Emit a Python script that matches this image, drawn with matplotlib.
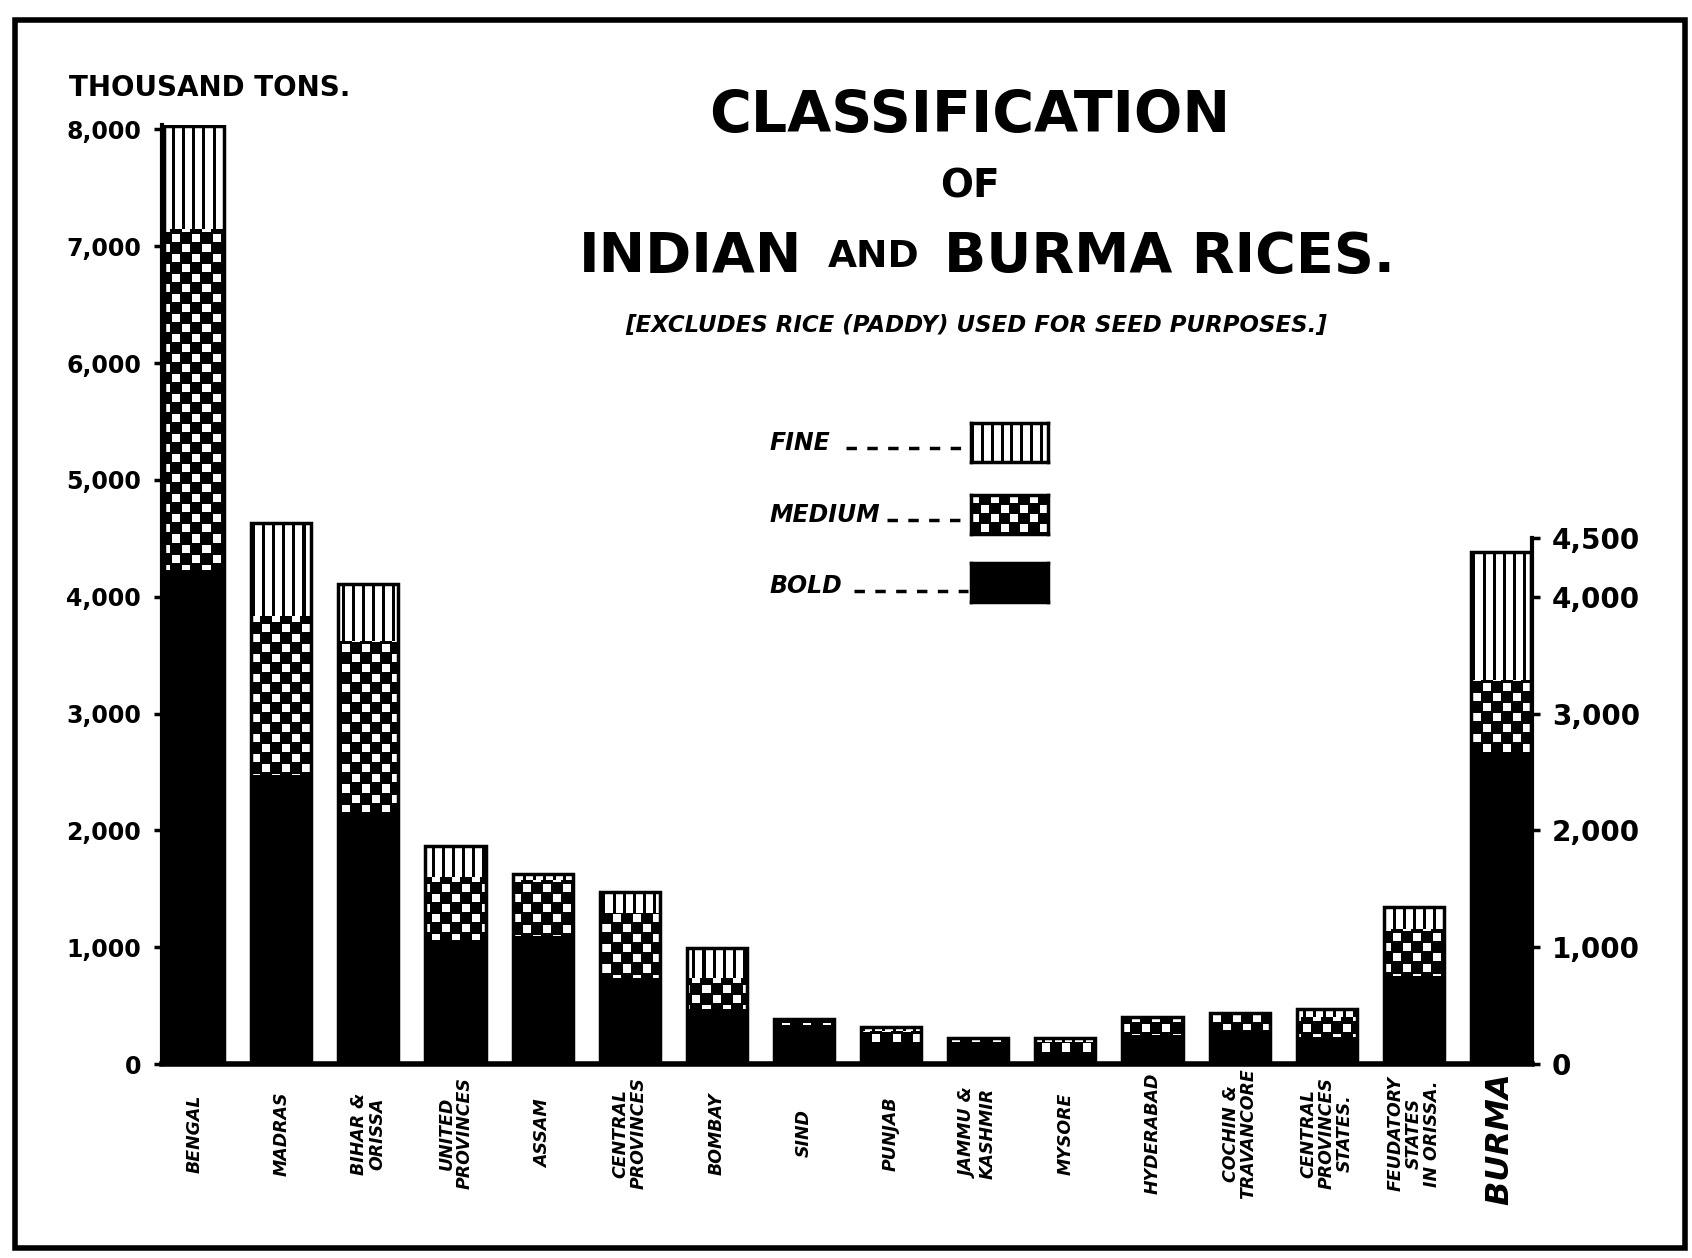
import numpy as np
import matplotlib
matplotlib.use("Agg")
import matplotlib.pyplot as plt
from matplotlib.patches import Rectangle
from matplotlib.lines import Line2D

# --- Datos (miles de toneladas) ---
provincias = ["BENGAL", "MADRAS", "BIHAR &\nORISSA", "UNITED\nPROVINCES", "ASSAM",
              "CENTRAL\nPROVINCES", "BOMBAY", "SIND", "PUNJAB", "JAMMU &\nKASHMIR",
              "MYSORE", "HYDERABAD", "COCHIN &\nTRAVANCORE",
              "CENTRAL\nPROVINCES\nSTATES.", "FEUDATORY\nSTATES\nIN ORISSA.", "BURMA "]
bold = [4230, 2475, 2160, 1065, 1100, 740, 475, 330, 175, 180, 100, 250, 290, 230, 750, 2650]
medium = [2920, 1360, 1460, 540, 475, 555, 265, 55, 110, 40, 90, 150, 150, 175, 405, 635]
fine = [880, 800, 490, 265, 50, 175, 255, 0, 35, 0, 30, 0, 0, 70, 185, 1100]
ticks_izq = [0, 1000, 2000, 3000, 4000, 5000, 6000, 7000, 8000]
ticks_der = [0, 1000, 2000, 3000, 4000, 4500]

plt.rcParams['font.family'] = ['DejaVu Sans']

# --- Patrones de relleno ---
def patron_cuadros(h, w, paso=10, lado=8):
    yy, xx = np.mgrid[0:h, 0:w]
    blanco = (((xx // paso) + (yy // paso)) % 2 == 0) & (xx % paso < lado) & (yy % paso < lado)
    return blanco.astype(np.uint8)

def patron_rayas(h, w, paso=10, grosor=3):
    xx = np.tile(np.arange(w), (h, 1))
    return (xx % paso >= grosor).astype(np.uint8)

fig = plt.figure(figsize=(16.92, 12.58), dpi=100)
ax = fig.add_axes([0.0957, 0.1542, 0.8099, 0.7466])

x = np.arange(len(provincias))
ancho = 0.69
bold = np.array(bold)
medium = np.array(medium)
fine = np.array(fine)

b1 = ax.bar(x, bold, ancho, color="black", zorder=2)
b2 = ax.bar(x, medium, ancho, bottom=bold, color="black", zorder=2)
b3 = ax.bar(x, fine, ancho, bottom=bold + medium, color="white", zorder=2)
ax.bar(x, bold + medium + fine, ancho, fill=False, edgecolor="black", linewidth=2.5, zorder=4)

xlim = (-0.37, 15.36)
ylim = (0, 8040)
ax.set_xlim(*xlim)
ax.set_ylim(*ylim)

h_px, w_px = 940, 1370
cuadros = patron_cuadros(h_px, w_px)
rayas = patron_rayas(h_px, w_px)
for cont, pat in ((b2, cuadros), (b3, rayas)):
    for p in cont.patches:
        if p.get_height() <= 0:
            continue
        im = ax.imshow(pat, cmap="gray", vmin=0, vmax=1, extent=(*xlim, *ylim),
                       aspect="auto", interpolation="nearest", zorder=3)
        im.set_clip_path(p)
ax.set_xlim(*xlim)
ax.set_ylim(*ylim)

# --- Ejes ---
for s in ("top", "right"):
    ax.spines[s].set_visible(False)
ax.spines["left"].set_linewidth(3)
ax.spines["bottom"].set_linewidth(4)
ax.set_yticks(ticks_izq, [f"{v:,}" for v in ticks_izq])
ax.tick_params(axis="y", length=6, width=2.5, pad=9, labelsize=17)
for t in ax.get_yticklabels():
    t.set_fontweight("bold")

ax.set_xticks(x, provincias, rotation=90, va="center", ha="center",
              multialignment="center", linespacing=1.0)
ax.tick_params(axis="x", length=0, pad=50, labelsize=12.5)
for t in ax.get_xticklabels():
    t.set_fontweight("bold")
    t.set_fontstyle("italic")
ult = ax.get_xticklabels()[-1]
ult.set_fontsize(23)

ax2 = ax.twinx()
ax2.set_ylim(*ylim)
for s in ("top", "left", "bottom"):
    ax2.spines[s].set_visible(False)
ax2.spines["right"].set_linewidth(3)
ax2.spines["right"].set_bounds(0, 4500)
ax2.set_yticks(ticks_der, [f"{v:,}" for v in ticks_der])
ax2.tick_params(axis="y", length=6, width=2.5, pad=8, labelsize=20)
for t in ax2.get_yticklabels():
    t.set_fontweight("bold")

# --- Textos ---
fig.text(0.041, 0.93, "THOUSAND TONS.", fontsize=20, fontweight="bold", va="center", ha="left")
fig.text(0.573, 0.907, "CLASSIFICATION", fontsize=41, fontweight="bold", ha="center", va="center")
fig.text(0.573, 0.852, "OF", fontsize=28, fontweight="bold", ha="center", va="center")
fig.text(802 / 1692, 0.796, "INDIAN", fontsize=40, fontweight="bold", ha="right", va="center")
fig.text(874 / 1692, 0.796, "AND", fontsize=27, fontweight="bold", ha="center", va="center")
fig.text(944 / 1692, 0.796, "BURMA RICES.", fontsize=40, fontweight="bold", ha="left", va="center")
fig.text(0.577, 0.741, "[EXCLUDES RICE (PADDY) USED FOR SEED PURPOSES.]", fontsize=16.5,
         fontweight="bold", fontstyle="italic", ha="center", va="center")

# --- Leyenda ---
leyenda = [("FINE", rayas, 0.6328, 0.648, 0.500),
           ("MEDIUM", cuadros, 0.5755, 0.591, 0.524),
           ("BOLD", None, 0.5215, 0.534, 0.505)]
for nombre, pat, yb, yt, xd in leyenda:
    fig.text(0.4545, yt, nombre, fontsize=17, fontweight="bold", fontstyle="italic", va="center")
    fig.add_artist(Line2D([xd, 0.572], [yt - 0.004, yt - 0.004], transform=fig.transFigure,
                          color="black", lw=2.5, ls=(0, (3, 3))))
    lax = fig.add_axes([0.574, yb, 0.0455, 0.031])
    if pat is None:
        lax.set_facecolor("black")
    else:
        lax.imshow(pat[:40, :78], cmap="gray", vmin=0, vmax=1, aspect="auto",
                   interpolation="nearest")
    lax.set_xticks([])
    lax.set_yticks([])
    for s in lax.spines.values():
        s.set_linewidth(2.5)

# --- Marco ---
fig.add_artist(Rectangle((15 / 1692, 10 / 1258), 1670 / 1692, 1228 / 1258, transform=fig.transFigure,
                         fill=False, edgecolor="black", linewidth=4))

fig.savefig("out.png", dpi=100)
